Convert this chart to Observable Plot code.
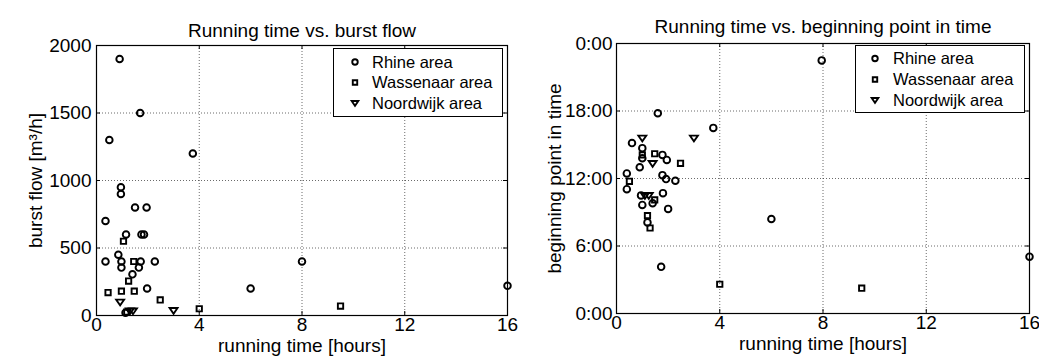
<!DOCTYPE html>
<html><head><meta charset="utf-8">
<script src="https://cdn.jsdelivr.net/npm/d3@7"></script>
<script src="https://cdn.jsdelivr.net/npm/@observablehq/plot@0.6"></script>
<style>
body{margin:0;background:#fff}
#wrap{position:relative;width:1039px;height:358px;overflow:hidden;font-family:"Liberation Sans",Arial,sans-serif;background:#fff}
#left,#right,#legend{position:absolute;top:0}
#left{left:0}#right{left:520px}#legend{left:0;pointer-events:none}
</style></head><body>
<div id="wrap"><div id="left"></div><div id="right"></div><svg id="legend" width="1039" height="358"></svg></div>
<script>
// ---- tick values / labels ----
const xTicks = [0, 4, 8, 12, 16];
const flowTicks = [0, 500, 1000, 1500, 2000];
const timeTicks = [0, 6, 12, 18, 24];
const timeTickLabels = ["0:00", "6:00", "12:00", "18:00", "0:00"];
const seriesNames = ["Rhine area", "Wassenaar area", "Noordwijk area"];

// ---- left chart: [running time (h), burst flow (m3/h)] ----
const rhineFlow = [[0.9,1900],[1.7,1500],[0.5,1300],[3.75,1200],[0.95,950],[0.95,900],[1.5,800],[1.95,800],
  [0.35,700],[1.15,600],[1.75,600],[1.85,600],[0.85,450],[0.35,400],[0.97,400],[1.72,400],[2.27,400],
  [0.97,355],[1.65,355],[1.4,305],[1.97,200],[6.0,200],[8.0,400],[16.0,220],[1.13,20]];
const wassenaarFlow = [[1.05,550],[1.45,400],[1.25,255],[0.45,170],[0.97,180],[1.47,180],[2.48,115],
  [4.0,50],[9.5,70],[1.18,25]];
const noordwijkFlow = [[0.92,100],[1.3,35],[1.42,35],[3.0,38]];

// ---- right chart: [running time (h), beginning time (h of day)] ----
const rhineStart = [[1.6,17.8],[3.75,16.5],[0.6,15.15],[1.0,14.7],[1.0,13.8],[1.78,14.1],[1.95,13.65],
  [0.9,13.0],[0.4,12.45],[1.78,12.3],[1.92,11.95],[2.28,11.8],[0.4,11.05],[0.95,10.5],[1.8,10.7],
  [1.4,9.8],[1.0,9.65],[2.0,9.3],[1.2,8.1],[1.73,4.15],[7.95,22.5],[6.0,8.4],[16.0,5.05]];
const wassenaarStart = [[1.48,14.2],[1.0,14.1],[2.48,13.35],[0.5,11.75],[1.48,10.1],[1.2,8.7],[1.3,7.6],
  [4.0,2.6],[9.5,2.25]];
const noordwijkStart = [[1.0,15.6],[3.0,15.6],[1.4,13.35],[1.1,10.5],[1.25,10.5]];

// ---- symbols ----
const triDown = {draw(ctx, size) {
  const a = Math.sqrt(size / 3);
  ctx.moveTo(-1.1 * a, -0.65 * a); ctx.lineTo(1.1 * a, -0.65 * a); ctx.lineTo(0, 0.95 * a); ctx.closePath();
}};
const symbols = [d3.symbolCircle, d3.symbolSquare, triDown];
const plotSymbols = ["circle", "square", triDown];
const radii = [3.3, 3.0, 3.5];

const font = '"Liberation Sans", Arial, sans-serif';
const fs = 19;

function toRows(series) {
  return series.flatMap((s, i) => s.map(([h, v]) => ({area: seriesNames[i], i, h, v})));
}

function makePlot(o) {
  const fw = o.width - o.ml - o.mr, fh = 358 - o.mt - o.mb;
  const rows = toRows(o.series);
  const grid = {stroke: "#222", strokeOpacity: 0.75, strokeDasharray: "1,2", strokeWidth: 0.9};
  return Plot.plot({
    width: o.width, height: 358,
    marginLeft: o.ml, marginRight: o.mr, marginTop: o.mt, marginBottom: o.mb,
    x: {domain: [0, 16]},
    y: {domain: o.yDomain},
    style: {fontFamily: font, fontSize: fs + "px", background: "white", color: "black", overflow: "visible"},
    marks: [
      Plot.gridX(xTicks, grid),
      Plot.gridY(o.yTicks, grid),
      Plot.ruleX(xTicks, {x: d => d, insetTop: fh - 4, stroke: "#000"}),
      Plot.ruleX(xTicks, {x: d => d, insetBottom: fh - 4, stroke: "#000"}),
      Plot.ruleY(o.yTicks, {y: d => d, insetRight: fw - 4, stroke: "#000"}),
      Plot.ruleY(o.yTicks, {y: d => d, insetLeft: fw - 4, stroke: "#000"}),
      Plot.frame({stroke: "#000", strokeWidth: 1.2}),
      ...[0, 1, 2].map(k => Plot.dot(rows.filter(d => d.i === k), {
        x: "h", y: "v", symbol: plotSymbols[k], r: radii[k], stroke: "#000", strokeWidth: 1.9, fill: "none"
      })),
      Plot.axisX(xTicks, {tickSize: 0, tickPadding: 2, fontSize: fs, label: null}),
      Plot.axisY(o.yTicks, {tickSize: 0, tickPadding: o.yPad, fontSize: fs, label: null, tickFormat: o.yFormat}),
      Plot.text([o.title], {text: d => d, frameAnchor: "top", dy: o.titleDy, fontSize: fs, textAnchor: "middle"}),
      Plot.text([o.xLabel], {text: d => d, frameAnchor: "bottom", dy: o.xLabelDy, fontSize: fs, textAnchor: "middle"}),
      Plot.text([o.yLabel], {text: d => d, frameAnchor: "left", dx: o.yLabelDx, rotate: -90, fontSize: fs,
        textAnchor: "middle", lineAnchor: "middle"})
    ]
  });
}

document.getElementById("left").append(makePlot({
  width: 520, ml: 96, mr: 13, mt: 45, mb: 43,
  yDomain: [0, 2000], yTicks: flowTicks, yFormat: d => String(d), yPad: 5,
  series: [rhineFlow, wassenaarFlow, noordwijkFlow],
  title: "Running time vs. burst flow", titleDy: -22,
  xLabel: "running time [hours]", xLabelDy: 36,
  yLabel: "burst flow [m³/h]", yLabelDx: -61
}));

document.getElementById("right").append(makePlot({
  width: 519, ml: 96, mr: 10, mt: 43, mb: 45,
  yDomain: [0, 24], yTicks: timeTicks, yFormat: d => timeTickLabels[timeTicks.indexOf(d)], yPad: 4,
  series: [rhineStart, wassenaarStart, noordwijkStart],
  title: "Running time vs. beginning point in time", titleDy: -24,
  xLabel: "running time [hours]", xLabelDy: 36,
  yLabel: "beginning point in time", yLabelDx: -62
}));

// ---- legends ----
const legendSvg = d3.select("#legend");
const legends = [
  {x0: 333, x1: 502, y0: 48, y1: 116, mx: 355, tx: 372, rows: [62, 82.5, 103]},
  {x0: 855, x1: 1024, y0: 45, y1: 112, mx: 875, tx: 893, rows: [58.5, 79.5, 100]}
];
for (const L of legends) {
  const g = legendSvg.append("g");
  g.append("rect").attr("x", L.x0 + 0.5).attr("y", L.y0 + 0.5).attr("width", L.x1 - L.x0).attr("height", L.y1 - L.y0)
    .attr("fill", "white").attr("stroke", "black");
  seriesNames.forEach((name, k) => {
    g.append("path").attr("transform", `translate(${L.mx},${L.rows[k]})`)
      .attr("d", d3.symbol(symbols[k], Math.PI * radii[k] * radii[k] * 0.7)())
      .attr("fill", "none").attr("stroke", "black").attr("stroke-width", 1.9);
    g.append("text").attr("x", L.tx).attr("y", L.rows[k]).attr("dy", "0.35em")
      .attr("font-family", font).attr("font-size", 16.5).text(name);
  });
}
</script>
</body></html>
